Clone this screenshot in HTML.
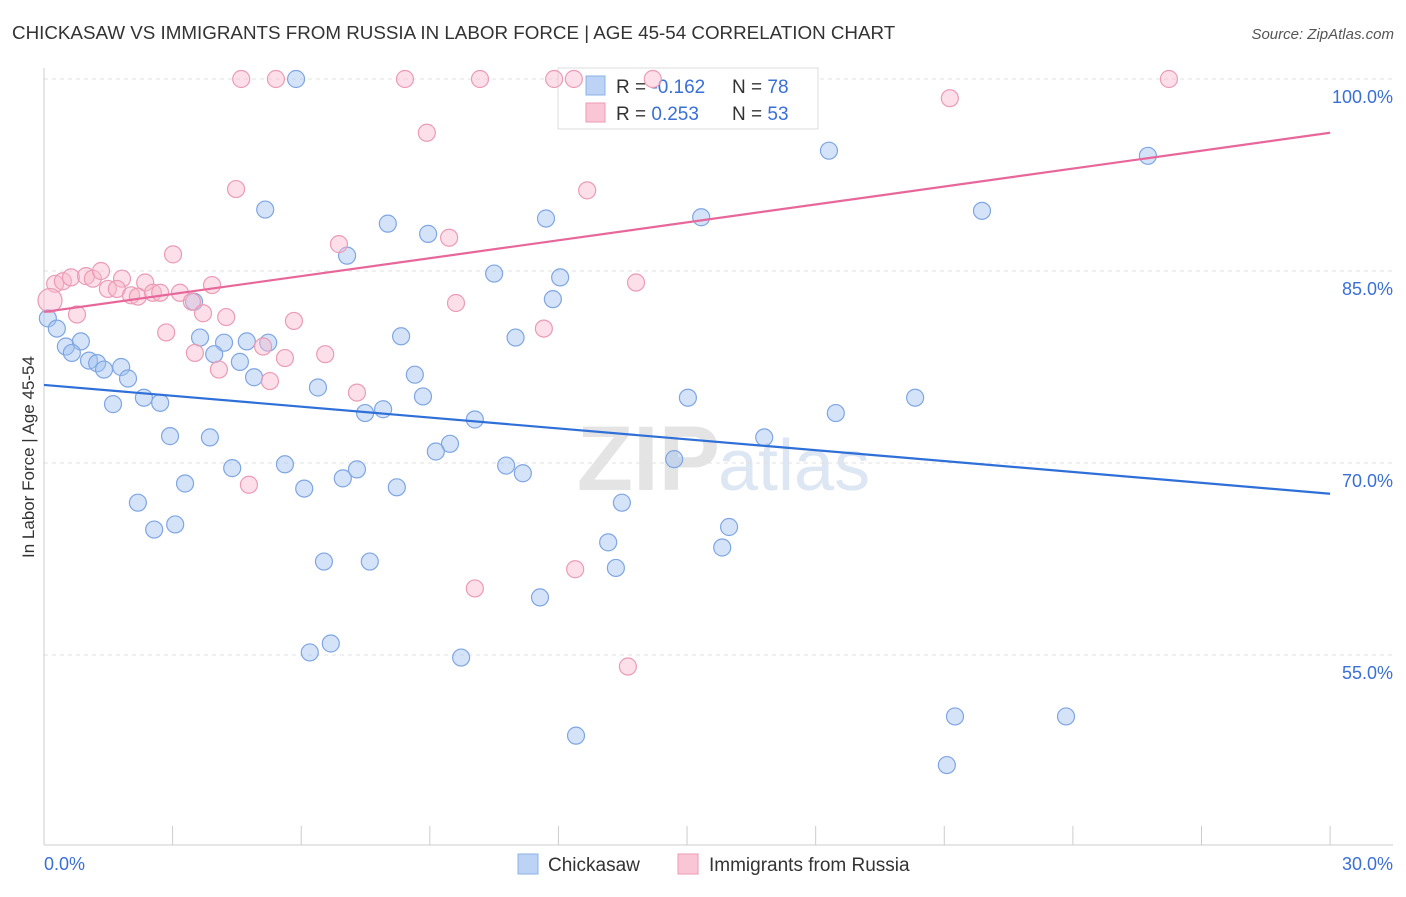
<!DOCTYPE html>
<html><head><meta charset="utf-8"><style>
body{margin:0;background:#fff;font-family:"Liberation Sans",sans-serif;}
svg text{font-family:"Liberation Sans",sans-serif;}
</style></head><body>
<svg id="chart" width="1406" height="892">
<text x="12" y="39" font-size="18.8" fill="#333">CHICKASAW VS IMMIGRANTS FROM RUSSIA IN LABOR FORCE | AGE 45-54 CORRELATION CHART</text>
<text x="1394" y="39" font-size="15" fill="#555" text-anchor="end" font-style="italic">Source: ZipAtlas.com</text>
<text x="720" y="490" font-size="92" fill="#e4e4e4" text-anchor="end" font-family="Liberation Serif" font-weight="bold">ZIP</text>
<text x="718" y="490" font-size="72" fill="#dde6f3">atlas</text>
<g id="grid"></g><g id="axes"></g>
<rect x="558" y="68" width="260" height="61" fill="#fff" stroke="#ddd"/>
<rect x="586" y="76" width="19" height="19" fill="#bcd3f5" stroke="#8db0e6"/>
<rect x="586" y="103" width="19" height="19" fill="#f9c6d5" stroke="#ee9ab3"/>
<text x="616" y="93" font-size="19" fill="#333">R = <tspan fill="#3a6fd6">-0.162</tspan></text>
<text x="732" y="93" font-size="19" fill="#333">N = <tspan fill="#3a6fd6">78</tspan></text>
<text x="616" y="120" font-size="19" fill="#333">R = <tspan fill="#3a6fd6"> 0.253</tspan></text>
<text x="732" y="120" font-size="19" fill="#333">N = <tspan fill="#3a6fd6">53</tspan></text>
<g id="pts"></g><g id="lines"></g>
<text transform="translate(34,457) rotate(-90)" font-size="17" fill="#333" text-anchor="middle">In Labor Force | Age 45-54</text>
<rect x="518" y="854" width="20" height="20" fill="#bcd3f5" stroke="#8db0e6"/>
<text x="548" y="871" font-size="19" fill="#333">Chickasaw</text>
<rect x="678" y="854" width="20" height="20" fill="#f9c6d5" stroke="#ee9ab3"/>
<text x="709" y="871" font-size="19" fill="#333">Immigrants from Russia</text>
</svg>
<script>
const yTicks=[55,70,85,100];
const yTickLabels=["55.0%","70.0%","85.0%","100.0%"];
const xTickVals=[0,3,6,9,12,15,18,21,24,27,30];
const blueX=[5.88,18.31,25.75,5.16,21.88,11.71,15.33,8.02,8.96,7.07,10.5,12.04,11.87,3.5,0.09,0.3,3.64,8.33,11.0,0.51,0.86,0.65,4.2,4.73,5.23,3.97,1.05,1.24,1.4,1.8,1.96,4.57,4.9,8.65,6.39,8.84,1.61,2.33,2.71,7.91,7.49,10.05,15.02,20.32,18.47,16.8,2.94,3.87,9.47,9.14,14.7,4.39,5.62,7.3,10.78,11.17,6.97,3.29,6.07,8.23,2.19,13.48,3.06,2.57,15.98,13.16,15.82,6.53,7.6,13.34,11.57,6.2,6.69,9.73,21.25,23.84,12.41,21.06];
const blueY=[100,94.4,94.0,89.8,89.7,89.1,89.2,88.7,87.9,86.2,84.8,84.5,82.8,82.6,81.3,80.5,79.8,79.9,79.8,79.1,79.5,78.6,79.4,79.5,79.4,78.5,78.0,77.8,77.3,77.5,76.6,77.9,76.7,76.9,75.9,75.2,74.6,75.1,74.7,74.2,73.9,73.4,75.1,75.1,73.9,72.0,72.1,72.0,71.5,70.9,70.3,69.6,69.9,69.5,69.8,69.2,68.8,68.4,68.0,68.1,66.9,66.9,65.2,64.8,65.0,63.8,63.4,62.3,62.3,61.8,59.5,55.2,55.9,54.8,50.2,50.2,48.7,46.4];
const pinkX=[4.6,5.41,8.42,10.17,11.9,12.36,14.2,26.24,21.13,8.93,4.48,12.67,9.45,6.88,3.01,0.26,0.44,0.63,0.98,1.14,1.33,1.82,2.36,3.92,13.81,1.49,1.7,2.03,2.19,2.54,2.71,3.17,3.45,9.61,0.77,3.71,4.25,5.83,11.66,2.85,5.11,3.52,6.56,5.62,4.08,5.27,7.3,4.78,12.39,10.05,13.62,0.14];
const pinkY=[100,100,100,100,100,100,100,100,98.5,95.8,91.4,91.3,87.6,87.1,86.3,84.0,84.2,84.5,84.6,84.4,85.0,84.4,84.1,83.9,84.1,83.6,83.6,83.1,83.0,83.3,83.3,83.3,82.6,82.5,81.6,81.7,81.4,81.1,80.5,80.2,79.1,78.6,78.5,78.2,77.3,76.4,75.5,68.3,61.7,60.2,54.1,82.7];
const blueTrend=[76.1,67.6];
const pinkTrend=[81.8,95.8];
const X=v=>44+v*42.87, Y=v=>79+(100-v)*12.8;
const NS="http://www.w3.org/2000/svg";
function mk(tag,attrs,parent){const e=document.createElementNS(NS,tag);for(const k in attrs)e.setAttribute(k,attrs[k]);document.getElementById(parent).appendChild(e);return e;}
yTicks.forEach((t,i)=>{
 const l=mk('line',{x1:44,x2:1393,y1:Y(t),y2:Y(t),stroke:'#e2e2e2','stroke-dasharray':'4,4'},'grid');
 
 
 const tx=mk('text',{x:1393,y:Y(t)+24,'font-size':18,fill:'#3a6fd6','text-anchor':'end'},'grid');
 tx.textContent=yTickLabels[i];
 
 
});
let a=mk('line',{x1:44,x2:44,y1:68,y2:845,stroke:'#ccc'},'axes');


a=mk('line',{x1:44,x2:1393,y1:845,y2:845,stroke:'#ccc'},'axes');


xTickVals.forEach(v=>{
 const t=mk('line',{x1:X(v),x2:X(v),y1:826,y2:845,stroke:'#ccc'},'axes');
 
 
});
let xl=mk('text',{x:44,y:870,'font-size':18,fill:'#3a6fd6'},'axes');xl.textContent=xTickVals[0].toFixed(1)+'%';


xl=mk('text',{x:1393,y:870,'font-size':18,fill:'#3a6fd6','text-anchor':'end'},'axes');xl.textContent=xTickVals[xTickVals.length-1].toFixed(1)+'%';


blueX.forEach((v,i)=>{
 const c=mk('circle',{cx:X(v),cy:Y(blueY[i]),r:8.5,fill:'rgba(160,192,240,0.45)',stroke:'#7fa6e3','stroke-width':1.2},'pts');
 
 
});
pinkX.forEach((v,i)=>{
 const c=mk('circle',{cx:X(v),cy:Y(pinkY[i]),r:i==pinkX.length-1?12:8.5,fill:'rgba(248,185,205,0.45)',stroke:'#eb9bb5','stroke-width':1.2},'pts');
 
 
});
let tl=mk('line',{x1:X(0),x2:X(30),y1:Y(blueTrend[0]),y2:Y(blueTrend[1]),stroke:'#2f6fd8','stroke-width':2.2},'lines');


tl=mk('line',{x1:X(0),x2:X(30),y1:Y(pinkTrend[0]),y2:Y(pinkTrend[1]),stroke:'#e8679a','stroke-width':2.2},'lines');


</script>
</body></html>
